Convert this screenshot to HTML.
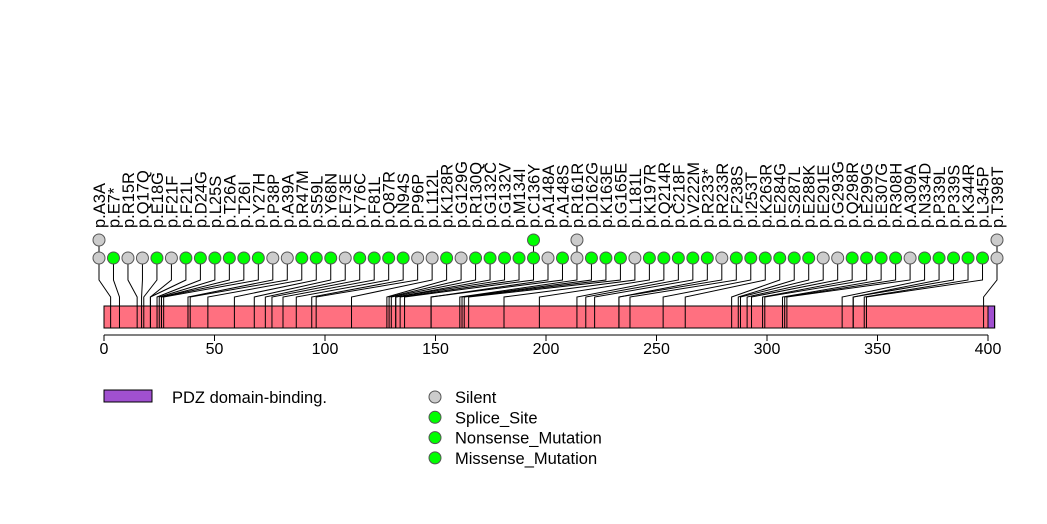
<!DOCTYPE html>
<html><head><meta charset="utf-8"><style>
body{margin:0;background:#fff;}
svg{display:block;font-family:"Liberation Sans",Arial,sans-serif;}
</style></head><body>
<svg id="chart" width="1047" height="524" viewBox="0 0 1047 524" xmlns="http://www.w3.org/2000/svg"></svg>
<script>
const positions = [3,7,15,17,18,21,21,24,25,26,26,27,38,39,47,59,68,73,76,81,87,94,96,112,128,129,130,132,132,134,136,148,148,161,162,163,165,181,197,214,218,222,233,233,238,253,263,284,287,288,291,293,298,299,307,308,309,334,339,339,344,345,398];
const labels = ["p.A3A","p.E7*","p.R15R","p.Q17Q","p.E18G","p.F21F","p.F21L","p.D24G","p.L25S","p.T26A","p.T26I","p.Y27H","p.P38P","p.A39A","p.R47M","p.S59L","p.Y68N","p.E73E","p.Y76C","p.F81L","p.Q87R","p.N94S","p.P96P","p.L112L","p.K128R","p.G129G","p.R130Q","p.G132C","p.G132V","p.M134I","p.C136Y","p.A148A","p.A148S","p.R161R","p.D162G","p.K163E","p.G165E","p.L181L","p.K197R","p.Q214R","p.C218F","p.V222M","p.R233*","p.R233R","p.F238S","p.I253T","p.K263R","p.E284G","p.S287L","p.E288K","p.E291E","p.G293G","p.Q298R","p.E299G","p.E307G","p.R308H","p.A309A","p.N334D","p.P339L","p.P339S","p.K344R","p.L345P","p.T398T"];
const silent = ["p.A3A","p.R15R","p.Q17Q","p.F21F","p.P38P","p.A39A","p.E73E","p.P96P","p.L112L","p.G129G","p.A148A","p.R161R","p.L181L","p.R233R","p.E291E","p.G293G","p.A309A","p.T398T"];
const counts = [2,1,1,1,1,1,1,1,1,1,1,1,1,1,1,1,1,1,1,1,1,1,1,1,1,1,1,1,1,1,2,1,1,2,1,1,1,1,1,1,1,1,1,1,1,1,1,1,1,1,1,1,1,1,1,1,1,1,1,1,1,1,2];
const ticks = [0,50,100,150,200,250,300,350,400];
const proteinLength = 403;
const domainStart = 400, domainEnd = 403;

const NS="http://www.w3.org/2000/svg";
const svg=document.getElementById('chart');
const xs=v=>104+v*(988-104)/400;
function mk(t,a,p){const e=document.createElementNS(NS,t);for(const k in a)e.setAttribute(k,a[k]);(p||svg).appendChild(e);return e;}
const GREEN="#00FF00",GREY="#CCCCCC";
const n=positions.length;
const cx0=99, cx1=997;
positions.forEach((p,i)=>{
  const cx=cx0+i*(cx1-cx0)/(n-1);
  const l=mk('polyline',{points:`${cx},${258} ${cx},280 ${xs(p)},297 ${xs(p)},328`,fill:'none',stroke:'#000','stroke-width':1});
  
  
});
const bar=mk('rect',{x:xs(0),y:306,width:xs(proteinLength)-xs(0),height:22,fill:'#FF7080',stroke:'none'});


const dom=mk('rect',{x:xs(domainStart),y:306,width:xs(domainEnd)-xs(domainStart),height:22,fill:'#A050D0',stroke:'#000','stroke-width':1});


positions.forEach(p=>{const l=mk('line',{x1:xs(p),x2:xs(p),y1:306,y2:328,stroke:'#000','stroke-width':1});
  
  });
const outline=mk('rect',{x:xs(0),y:306,width:xs(proteinLength)-xs(0),height:22,fill:'none',stroke:'#000','stroke-width':1});


positions.forEach((p,i)=>{
  const cx=cx0+i*(cx1-cx0)/(n-1);
  const col=silent.includes(labels[i])?GREY:GREEN;
  if(counts[i]>1){
    mk('line',{x1:cx,x2:cx,y1:240,y2:258,stroke:'#000'});
    const c2=mk('circle',{cx:cx,cy:240,r:6,fill:col,stroke:'#555','stroke-width':1});
    
    
  }
  const c=mk('circle',{cx:cx,cy:258,r:6,fill:col,stroke:'#555','stroke-width':1});
  
  
  const t=mk('text',{x:0,y:0,transform:`translate(${cx+6},228) rotate(-90)`,'font-size':16.5});
  t.textContent=labels[i];
  
  
});
const ax=mk('line',{x1:xs(0),x2:xs(400),y1:335,y2:335,stroke:'#000'});


ticks.forEach(v=>{
  mk('line',{x1:xs(v),x2:xs(v),y1:335,y2:341,stroke:'#000'});
  const t=mk('text',{x:xs(v),y:354,'text-anchor':'middle','font-size':16});
  t.textContent=v;
  
  
});
const lr=mk('rect',{x:104,y:390,width:48,height:12,fill:'#A050D0',stroke:'#000'});


const lt=mk('text',{x:172,y:403,'font-size':16.5});lt.textContent='PDZ domain-binding.';


const leg=[["Silent",GREY],["Splice_Site",GREEN],["Nonsense_Mutation",GREEN],["Missense_Mutation",GREEN]];
leg.forEach((d,i)=>{
  const y=397+i*20.3;
  const c=mk('circle',{cx:435,cy:y,r:6,fill:d[1],stroke:'#555'});
  
  
  const t=mk('text',{x:455,y:y+6,'font-size':16.5});t.textContent=d[0];
  
  
});
</script>
</body></html>
